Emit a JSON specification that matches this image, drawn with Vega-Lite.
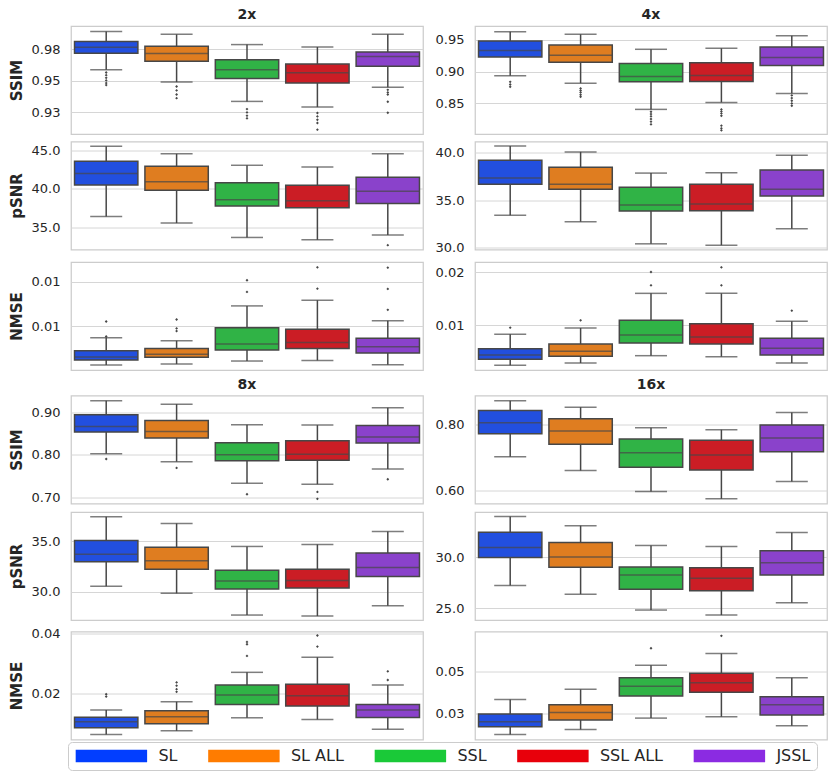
{
"$schema": "https://vega.github.io/schema/vega-lite/v6.json",
"padding": {"left": 8, "top": 7, "right": 5, "bottom": 5},
"background": "#ffffff",
"datasets": {"d": [
{"s":"2x","m":"SSIM","g":"SL","lo":0.9587,"q1":0.9718,"md":0.9766,"q3":0.9811,"hi":0.989,"out":[0.9566,0.9545,0.9524,0.9503,0.9482,0.9466]},
{"s":"2x","m":"SSIM","g":"SL ALL","lo":0.949,"q1":0.9655,"md":0.9716,"q3":0.9774,"hi":0.9868,"out":[0.9455,0.9424,0.9392,0.9363]},
{"s":"2x","m":"SSIM","g":"SSL","lo":0.9337,"q1":0.9518,"md":0.9587,"q3":0.9666,"hi":0.9787,"out":[0.9276,0.925,0.9224,0.9203]},
{"s":"2x","m":"SSIM","g":"SSL ALL","lo":0.9292,"q1":0.9482,"md":0.9563,"q3":0.9634,"hi":0.9768,"out":[0.9245,0.9218,0.9192,0.9166,0.9113]},
{"s":"2x","m":"SSIM","g":"JSSL","lo":0.945,"q1":0.9616,"md":0.9692,"q3":0.9729,"hi":0.9868,"out":[0.9429,0.9408,0.9392,0.9334,0.9247]},
{"s":"2x","m":"pSNR","g":"SL","lo":36.4,"q1":40.53,"md":42.02,"q3":43.64,"hi":45.61,"out":[]},
{"s":"2x","m":"pSNR","g":"SL ALL","lo":35.53,"q1":39.82,"md":40.96,"q3":42.98,"hi":44.61,"out":[]},
{"s":"2x","m":"pSNR","g":"SSL","lo":33.64,"q1":37.76,"md":38.6,"q3":40.83,"hi":43.11,"out":[]},
{"s":"2x","m":"pSNR","g":"SSL ALL","lo":33.33,"q1":37.54,"md":38.46,"q3":40.48,"hi":42.89,"out":[]},
{"s":"2x","m":"pSNR","g":"JSSL","lo":33.95,"q1":38.11,"md":39.69,"q3":41.54,"hi":44.61,"out":[32.63]},
{"s":"2x","m":"NMSE","g":"SL","lo":0.00067,"q1":0.00123,"md":0.00157,"q3":0.00228,"hi":0.00373,"out":[0.00556,0.00387]},
{"s":"2x","m":"NMSE","g":"SL ALL","lo":0.00078,"q1":0.00153,"md":0.00187,"q3":0.00254,"hi":0.0034,"out":[0.00578,0.00478,0.00448]},
{"s":"2x","m":"NMSE","g":"SSL","lo":0.00112,"q1":0.00235,"md":0.00302,"q3":0.00485,"hi":0.00731,"out":[0.00888,0.01019]},
{"s":"2x","m":"NMSE","g":"SSL ALL","lo":0.00119,"q1":0.00254,"md":0.0032,"q3":0.0047,"hi":0.00795,"out":[0.00925,0.01164]},
{"s":"2x","m":"NMSE","g":"JSSL","lo":0.00071,"q1":0.00201,"md":0.00272,"q3":0.00369,"hi":0.00563,"out":[0.00687,0.00922,0.0116]},
{"s":"4x","m":"SSIM","g":"SL","lo":0.8935,"q1":0.9233,"md":0.9332,"q3":0.9484,"hi":0.9631,"out":[0.884,0.8798,0.8762]},
{"s":"4x","m":"SSIM","g":"SL ALL","lo":0.8819,"q1":0.9149,"md":0.9259,"q3":0.9421,"hi":0.9589,"out":[0.8736,0.8704,0.8673,0.8636,0.8605]},
{"s":"4x","m":"SSIM","g":"SSL","lo":0.8406,"q1":0.884,"md":0.8924,"q3":0.9128,"hi":0.9353,"out":[0.8369,0.8332,0.8296,0.8254,0.8212,0.817]},
{"s":"4x","m":"SSIM","g":"SSL ALL","lo":0.8516,"q1":0.8846,"md":0.894,"q3":0.9139,"hi":0.9369,"out":[0.8406,0.8374,0.8343,0.8306,0.8149,0.8107,0.8076]},
{"s":"4x","m":"SSIM","g":"JSSL","lo":0.8657,"q1":0.9097,"md":0.9223,"q3":0.939,"hi":0.9568,"out":[0.8626,0.8584,0.8542,0.85,0.8463]},
{"s":"4x","m":"pSNR","g":"SL","lo":33.4,"q1":36.7,"md":37.34,"q3":39.22,"hi":40.74,"out":[]},
{"s":"4x","m":"pSNR","g":"SL ALL","lo":32.73,"q1":36.17,"md":36.7,"q3":38.48,"hi":40.11,"out":[]},
{"s":"4x","m":"pSNR","g":"SSL","lo":30.39,"q1":33.87,"md":34.5,"q3":36.38,"hi":37.87,"out":[]},
{"s":"4x","m":"pSNR","g":"SSL ALL","lo":30.25,"q1":33.9,"md":34.61,"q3":36.7,"hi":37.91,"out":[]},
{"s":"4x","m":"pSNR","g":"JSSL","lo":31.99,"q1":35.46,"md":36.17,"q3":38.19,"hi":39.75,"out":[]},
{"s":"4x","m":"NMSE","g":"SL","lo":0.0025,"q1":0.00363,"md":0.00444,"q3":0.00563,"hi":0.00831,"out":[0.00956]},
{"s":"4x","m":"NMSE","g":"SL ALL","lo":0.00294,"q1":0.00419,"md":0.00513,"q3":0.0065,"hi":0.0095,"out":[0.01094]},
{"s":"4x","m":"NMSE","g":"SSL","lo":0.00431,"q1":0.00669,"md":0.00819,"q3":0.01094,"hi":0.016,"out":[0.0175,0.02]},
{"s":"4x","m":"NMSE","g":"SSL ALL","lo":0.00413,"q1":0.0065,"md":0.00781,"q3":0.01031,"hi":0.016,"out":[0.0175,0.02088]},
{"s":"4x","m":"NMSE","g":"JSSL","lo":0.00294,"q1":0.00444,"md":0.00569,"q3":0.00756,"hi":0.01075,"out":[0.01275]},
{"s":"8x","m":"SSIM","g":"SL","lo":0.8023,"q1":0.8531,"md":0.8664,"q3":0.8938,"hi":0.9266,"out":[0.7898]},
{"s":"8x","m":"SSIM","g":"SL ALL","lo":0.7836,"q1":0.8391,"md":0.8547,"q3":0.8805,"hi":0.9188,"out":[0.7688]},
{"s":"8x","m":"SSIM","g":"SSL","lo":0.7328,"q1":0.7859,"md":0.8,"q3":0.8281,"hi":0.8703,"out":[0.707]},
{"s":"8x","m":"SSIM","g":"SSL ALL","lo":0.7305,"q1":0.7867,"md":0.8008,"q3":0.8328,"hi":0.8695,"out":[0.7125,0.6961]},
{"s":"8x","m":"SSIM","g":"JSSL","lo":0.7664,"q1":0.8273,"md":0.8414,"q3":0.8688,"hi":0.9102,"out":[0.7422]},
{"s":"8x","m":"pSNR","g":"SL","lo":30.53,"q1":32.95,"md":33.71,"q3":35.07,"hi":37.42,"out":[]},
{"s":"8x","m":"pSNR","g":"SL ALL","lo":29.83,"q1":32.22,"md":33.05,"q3":34.4,"hi":36.75,"out":[]},
{"s":"8x","m":"pSNR","g":"SSL","lo":27.68,"q1":30.26,"md":31.06,"q3":32.12,"hi":34.47,"out":[]},
{"s":"8x","m":"pSNR","g":"SSL ALL","lo":27.58,"q1":30.36,"md":31.09,"q3":32.22,"hi":34.67,"out":[]},
{"s":"8x","m":"pSNR","g":"JSSL","lo":28.61,"q1":31.49,"md":32.38,"q3":33.81,"hi":35.96,"out":[]},
{"s":"8x","m":"NMSE","g":"SL","lo":0.00599,"q1":0.00825,"md":0.01028,"q3":0.01186,"hi":0.01424,"out":[0.0196,0.0188]},
{"s":"8x","m":"NMSE","g":"SL ALL","lo":0.00723,"q1":0.0096,"md":0.01198,"q3":0.01401,"hi":0.01706,"out":[0.0236,0.0225,0.0213,0.0204]},
{"s":"8x","m":"NMSE","g":"SSL","lo":0.01164,"q1":0.01616,"md":0.01932,"q3":0.02271,"hi":0.027,"out":[0.03254,0.0365,0.03729]},
{"s":"8x","m":"NMSE","g":"SSL ALL","lo":0.01107,"q1":0.0156,"md":0.0191,"q3":0.02294,"hi":0.03209,"out":[0.03571,0.03944]},
{"s":"8x","m":"NMSE","g":"JSSL","lo":0.0078,"q1":0.01175,"md":0.01424,"q3":0.01616,"hi":0.02271,"out":[0.02441,0.02734]},
{"s":"16x","m":"SSIM","g":"SL","lo":0.702,"q1":0.7717,"md":0.8051,"q3":0.8424,"hi":0.8717,"out":[]},
{"s":"16x","m":"SSIM","g":"SL ALL","lo":0.6596,"q1":0.7394,"md":0.7798,"q3":0.8172,"hi":0.8525,"out":[]},
{"s":"16x","m":"SSIM","g":"SSL","lo":0.596,"q1":0.6697,"md":0.7141,"q3":0.7556,"hi":0.7899,"out":[]},
{"s":"16x","m":"SSIM","g":"SSL ALL","lo":0.5737,"q1":0.6616,"md":0.7071,"q3":0.7515,"hi":0.7838,"out":[]},
{"s":"16x","m":"SSIM","g":"JSSL","lo":0.6263,"q1":0.7172,"md":0.7586,"q3":0.798,"hi":0.8364,"out":[]},
{"s":"16x","m":"pSNR","g":"SL","lo":27.23,"q1":29.97,"md":30.94,"q3":32.42,"hi":33.94,"out":[]},
{"s":"16x","m":"pSNR","g":"SL ALL","lo":26.39,"q1":29.0,"md":30.0,"q3":31.42,"hi":33.06,"out":[]},
{"s":"16x","m":"pSNR","g":"SSL","lo":24.84,"q1":26.87,"md":28.26,"q3":29.03,"hi":31.13,"out":[]},
{"s":"16x","m":"pSNR","g":"SSL ALL","lo":24.35,"q1":26.71,"md":27.94,"q3":28.97,"hi":31.03,"out":[]},
{"s":"16x","m":"pSNR","g":"JSSL","lo":25.55,"q1":28.26,"md":29.45,"q3":30.61,"hi":32.39,"out":[]},
{"s":"16x","m":"NMSE","g":"SL","lo":0.0122,"q1":0.0168,"md":0.0198,"q3":0.0244,"hi":0.0332,"out":[]},
{"s":"16x","m":"NMSE","g":"SL ALL","lo":0.0152,"q1":0.0208,"md":0.0254,"q3":0.03,"hi":0.0392,"out":[]},
{"s":"16x","m":"NMSE","g":"SSL","lo":0.022,"q1":0.0352,"md":0.041,"q3":0.0462,"hi":0.0536,"out":[0.0638]},
{"s":"16x","m":"NMSE","g":"SSL ALL","lo":0.0228,"q1":0.0374,"md":0.0432,"q3":0.0488,"hi":0.0606,"out":[0.0712]},
{"s":"16x","m":"NMSE","g":"JSSL","lo":0.0174,"q1":0.0238,"md":0.03,"q3":0.0348,"hi":0.0462,"out":[]}
]},
"data": {"name": "d"},
"columns": 2,
"spacing": {"row": 5.5, "column": 10},
"resolve": {"scale": {"color": "shared", "fill": "independent"}, "legend": {"color": "shared", "fill": "independent"}},
"concat": [
 {"title": "2x", "width": 352, "height": 108, "transform": [{"filter": "datum.s==='2x'&&datum.m==='SSIM'"}],
  "encoding": {"x": {"field": "g", "type": "nominal", "scale": {"domain": ["SL","SL ALL","SSL","SSL ALL","JSSL"], "paddingInner": 0, "paddingOuter": 0}, "axis": null}},
  "layer": [
   {"mark": {"type": "rule", "color": "#474747", "strokeWidth": 1.5}, "encoding": {"y": {"field": "lo", "type": "quantitative", "scale": {"domain": [0.90789, 0.99342], "nice": false, "zero": false}, "axis": {"title": "SSIM", "values": [0.925, 0.95, 0.975], "labelExpr": "format(datum.value+1e-9,'.2f')"}}, "y2": {"field": "hi"}}},
   {"mark": {"type": "tick", "color": "#474747", "size": 32, "thickness": 1.5}, "encoding": {"y": {"field": "lo", "type": "quantitative"}}},
   {"mark": {"type": "tick", "color": "#474747", "size": 32, "thickness": 1.5}, "encoding": {"y": {"field": "hi", "type": "quantitative"}}},
   {"mark": {"type": "bar", "width": {"band": 0.9}, "stroke": "#474747", "strokeWidth": 1.5}, "encoding": {"y": {"field": "q1", "type": "quantitative"}, "y2": {"field": "q3"}, "fill": {"field": "g", "type": "nominal", "scale": {"domain": ["SL","SL ALL","SSL","SSL ALL","JSSL"], "range": ["#224fdf","#df7d20","#30b346","#cb1d25","#8a42cb"]}, "legend": null}}},
   {"mark": {"type": "tick", "color": "#474747", "size": 63, "thickness": 1.5}, "encoding": {"y": {"field": "md", "type": "quantitative"}}},
   {"transform": [{"flatten": ["out"]}], "mark": {"type": "point", "shape": "diamond", "filled": true, "size": 8, "color": "#474747", "opacity": 1}, "encoding": {"y": {"field": "out", "type": "quantitative"}}},
   {"transform": [{"filter": "false"}], "mark": {"type": "point", "filled": true}, "encoding": {"y": {"field": "md", "type": "quantitative"}, "color": {"field": "g", "type": "nominal", "scale": {"domain": ["SL","SL ALL","SSL","SSL ALL","JSSL"], "range": ["#023eff","#ff7c00","#1ac938","#e8000b","#8b2be2"]}, "legend": {"title": null, "orient": "none", "legendX": -3, "legendY": 716, "direction": "horizontal", "columns": 5, "symbolType": "M-5.63,-1L5.63,-1L5.63,1L-5.63,1Z", "symbolSize": 161, "symbolOffset": 29.4, "symbolOpacity": 1, "symbolStrokeWidth": 0, "labelOffset": 39, "labelFontSize": 16, "labelColor": "#262626", "columnPadding": 28.5, "padding": 6, "strokeColor": "#cccccc", "cornerRadius": 4, "fillColor": "#ffffff"}}}}
  ]},
 {"title": "4x", "width": 352, "height": 108, "transform": [{"filter": "datum.s==='4x'&&datum.m==='SSIM'"}],
  "encoding": {"x": {"field": "g", "type": "nominal", "scale": {"domain": ["SL","SL ALL","SSL","SSL ALL","JSSL"], "paddingInner": 0, "paddingOuter": 0}, "axis": null}},
  "layer": [
   {"mark": {"type": "rule", "color": "#474747", "strokeWidth": 1.5}, "encoding": {"y": {"field": "lo", "type": "quantitative", "scale": {"domain": [0.8018, 0.972], "nice": false, "zero": false}, "axis": {"title": null, "values": [0.85, 0.9, 0.95], "labelExpr": "format(datum.value+1e-9,'.2f')"}}, "y2": {"field": "hi"}}},
   {"mark": {"type": "tick", "color": "#474747", "size": 32, "thickness": 1.5}, "encoding": {"y": {"field": "lo", "type": "quantitative"}}},
   {"mark": {"type": "tick", "color": "#474747", "size": 32, "thickness": 1.5}, "encoding": {"y": {"field": "hi", "type": "quantitative"}}},
   {"mark": {"type": "bar", "width": {"band": 0.9}, "stroke": "#474747", "strokeWidth": 1.5}, "encoding": {"y": {"field": "q1", "type": "quantitative"}, "y2": {"field": "q3"}, "fill": {"field": "g", "type": "nominal", "scale": {"domain": ["SL","SL ALL","SSL","SSL ALL","JSSL"], "range": ["#224fdf","#df7d20","#30b346","#cb1d25","#8a42cb"]}, "legend": null}}},
   {"mark": {"type": "tick", "color": "#474747", "size": 63, "thickness": 1.5}, "encoding": {"y": {"field": "md", "type": "quantitative"}}},
   {"transform": [{"flatten": ["out"]}], "mark": {"type": "point", "shape": "diamond", "filled": true, "size": 8, "color": "#474747", "opacity": 1}, "encoding": {"y": {"field": "out", "type": "quantitative"}}}
  ]},
 {"width": 352, "height": 108, "transform": [{"filter": "datum.s==='2x'&&datum.m==='pSNR'"}],
  "encoding": {"x": {"field": "g", "type": "nominal", "scale": {"domain": ["SL","SL ALL","SSL","SSL ALL","JSSL"], "paddingInner": 0, "paddingOuter": 0}, "axis": null}},
  "layer": [
   {"mark": {"type": "rule", "color": "#474747", "strokeWidth": 1.5}, "encoding": {"y": {"field": "lo", "type": "quantitative", "scale": {"domain": [32.06, 46.23], "nice": false, "zero": false}, "axis": {"title": "pSNR", "values": [35, 40, 45], "labelExpr": "format(datum.value+1e-9,'.1f')"}}, "y2": {"field": "hi"}}},
   {"mark": {"type": "tick", "color": "#474747", "size": 32, "thickness": 1.5}, "encoding": {"y": {"field": "lo", "type": "quantitative"}}},
   {"mark": {"type": "tick", "color": "#474747", "size": 32, "thickness": 1.5}, "encoding": {"y": {"field": "hi", "type": "quantitative"}}},
   {"mark": {"type": "bar", "width": {"band": 0.9}, "stroke": "#474747", "strokeWidth": 1.5}, "encoding": {"y": {"field": "q1", "type": "quantitative"}, "y2": {"field": "q3"}, "fill": {"field": "g", "type": "nominal", "scale": {"domain": ["SL","SL ALL","SSL","SSL ALL","JSSL"], "range": ["#224fdf","#df7d20","#30b346","#cb1d25","#8a42cb"]}, "legend": null}}},
   {"mark": {"type": "tick", "color": "#474747", "size": 63, "thickness": 1.5}, "encoding": {"y": {"field": "md", "type": "quantitative"}}},
   {"transform": [{"flatten": ["out"]}], "mark": {"type": "point", "shape": "diamond", "filled": true, "size": 8, "color": "#474747", "opacity": 1}, "encoding": {"y": {"field": "out", "type": "quantitative"}}}
  ]},
 {"width": 352, "height": 108, "transform": [{"filter": "datum.s==='4x'&&datum.m==='pSNR'"}],
  "encoding": {"x": {"field": "g", "type": "nominal", "scale": {"domain": ["SL","SL ALL","SSL","SSL ALL","JSSL"], "paddingInner": 0, "paddingOuter": 0}, "axis": null}},
  "layer": [
   {"mark": {"type": "rule", "color": "#474747", "strokeWidth": 1.5}, "encoding": {"y": {"field": "lo", "type": "quantitative", "scale": {"domain": [29.79, 41.21], "nice": false, "zero": false}, "axis": {"title": null, "values": [30, 35, 40], "labelExpr": "format(datum.value+1e-9,'.1f')"}}, "y2": {"field": "hi"}}},
   {"mark": {"type": "tick", "color": "#474747", "size": 32, "thickness": 1.5}, "encoding": {"y": {"field": "lo", "type": "quantitative"}}},
   {"mark": {"type": "tick", "color": "#474747", "size": 32, "thickness": 1.5}, "encoding": {"y": {"field": "hi", "type": "quantitative"}}},
   {"mark": {"type": "bar", "width": {"band": 0.9}, "stroke": "#474747", "strokeWidth": 1.5}, "encoding": {"y": {"field": "q1", "type": "quantitative"}, "y2": {"field": "q3"}, "fill": {"field": "g", "type": "nominal", "scale": {"domain": ["SL","SL ALL","SSL","SSL ALL","JSSL"], "range": ["#224fdf","#df7d20","#30b346","#cb1d25","#8a42cb"]}, "legend": null}}},
   {"mark": {"type": "tick", "color": "#474747", "size": 63, "thickness": 1.5}, "encoding": {"y": {"field": "md", "type": "quantitative"}}},
   {"transform": [{"flatten": ["out"]}], "mark": {"type": "point", "shape": "diamond", "filled": true, "size": 8, "color": "#474747", "opacity": 1}, "encoding": {"y": {"field": "out", "type": "quantitative"}}}
  ]},
 {"width": 352, "height": 108, "transform": [{"filter": "datum.s==='2x'&&datum.m==='NMSE'"}],
  "encoding": {"x": {"field": "g", "type": "nominal", "scale": {"domain": ["SL","SL ALL","SSL","SSL ALL","JSSL"], "paddingInner": 0, "paddingOuter": 0}, "axis": null}},
  "layer": [
   {"mark": {"type": "rule", "color": "#474747", "strokeWidth": 1.5}, "encoding": {"y": {"field": "lo", "type": "quantitative", "scale": {"domain": [0.000112, 0.01224], "nice": false, "zero": false}, "axis": {"title": "NMSE", "values": [0.005, 0.01], "labelExpr": "format(datum.value+1e-9,'.2f')"}}, "y2": {"field": "hi"}}},
   {"mark": {"type": "tick", "color": "#474747", "size": 32, "thickness": 1.5}, "encoding": {"y": {"field": "lo", "type": "quantitative"}}},
   {"mark": {"type": "tick", "color": "#474747", "size": 32, "thickness": 1.5}, "encoding": {"y": {"field": "hi", "type": "quantitative"}}},
   {"mark": {"type": "bar", "width": {"band": 0.9}, "stroke": "#474747", "strokeWidth": 1.5}, "encoding": {"y": {"field": "q1", "type": "quantitative"}, "y2": {"field": "q3"}, "fill": {"field": "g", "type": "nominal", "scale": {"domain": ["SL","SL ALL","SSL","SSL ALL","JSSL"], "range": ["#224fdf","#df7d20","#30b346","#cb1d25","#8a42cb"]}, "legend": null}}},
   {"mark": {"type": "tick", "color": "#474747", "size": 63, "thickness": 1.5}, "encoding": {"y": {"field": "md", "type": "quantitative"}}},
   {"transform": [{"flatten": ["out"]}], "mark": {"type": "point", "shape": "diamond", "filled": true, "size": 8, "color": "#474747", "opacity": 1}, "encoding": {"y": {"field": "out", "type": "quantitative"}}}
  ]},
 {"width": 352, "height": 108, "transform": [{"filter": "datum.s==='4x'&&datum.m==='NMSE'"}],
  "encoding": {"x": {"field": "g", "type": "nominal", "scale": {"domain": ["SL","SL ALL","SSL","SSL ALL","JSSL"], "paddingInner": 0, "paddingOuter": 0}, "axis": null}},
  "layer": [
   {"mark": {"type": "rule", "color": "#474747", "strokeWidth": 1.5}, "encoding": {"y": {"field": "lo", "type": "quantitative", "scale": {"domain": [0.001625, 0.02188], "nice": false, "zero": false}, "axis": {"title": null, "values": [0.01, 0.02], "labelExpr": "format(datum.value+1e-9,'.2f')"}}, "y2": {"field": "hi"}}},
   {"mark": {"type": "tick", "color": "#474747", "size": 32, "thickness": 1.5}, "encoding": {"y": {"field": "lo", "type": "quantitative"}}},
   {"mark": {"type": "tick", "color": "#474747", "size": 32, "thickness": 1.5}, "encoding": {"y": {"field": "hi", "type": "quantitative"}}},
   {"mark": {"type": "bar", "width": {"band": 0.9}, "stroke": "#474747", "strokeWidth": 1.5}, "encoding": {"y": {"field": "q1", "type": "quantitative"}, "y2": {"field": "q3"}, "fill": {"field": "g", "type": "nominal", "scale": {"domain": ["SL","SL ALL","SSL","SSL ALL","JSSL"], "range": ["#224fdf","#df7d20","#30b346","#cb1d25","#8a42cb"]}, "legend": null}}},
   {"mark": {"type": "tick", "color": "#474747", "size": 63, "thickness": 1.5}, "encoding": {"y": {"field": "md", "type": "quantitative"}}},
   {"transform": [{"flatten": ["out"]}], "mark": {"type": "point", "shape": "diamond", "filled": true, "size": 8, "color": "#474747", "opacity": 1}, "encoding": {"y": {"field": "out", "type": "quantitative"}}}
  ]},
 {"title": "8x", "width": 352, "height": 108, "transform": [{"filter": "datum.s==='8x'&&datum.m==='SSIM'"}],
  "encoding": {"x": {"field": "g", "type": "nominal", "scale": {"domain": ["SL","SL ALL","SSL","SSL ALL","JSSL"], "paddingInner": 0, "paddingOuter": 0}, "axis": null}},
  "layer": [
   {"mark": {"type": "rule", "color": "#474747", "strokeWidth": 1.5}, "encoding": {"y": {"field": "lo", "type": "quantitative", "scale": {"domain": [0.6852, 0.9391], "nice": false, "zero": false}, "axis": {"title": "SSIM", "values": [0.7, 0.8, 0.9], "labelExpr": "format(datum.value+1e-9,'.2f')"}}, "y2": {"field": "hi"}}},
   {"mark": {"type": "tick", "color": "#474747", "size": 32, "thickness": 1.5}, "encoding": {"y": {"field": "lo", "type": "quantitative"}}},
   {"mark": {"type": "tick", "color": "#474747", "size": 32, "thickness": 1.5}, "encoding": {"y": {"field": "hi", "type": "quantitative"}}},
   {"mark": {"type": "bar", "width": {"band": 0.9}, "stroke": "#474747", "strokeWidth": 1.5}, "encoding": {"y": {"field": "q1", "type": "quantitative"}, "y2": {"field": "q3"}, "fill": {"field": "g", "type": "nominal", "scale": {"domain": ["SL","SL ALL","SSL","SSL ALL","JSSL"], "range": ["#224fdf","#df7d20","#30b346","#cb1d25","#8a42cb"]}, "legend": null}}},
   {"mark": {"type": "tick", "color": "#474747", "size": 63, "thickness": 1.5}, "encoding": {"y": {"field": "md", "type": "quantitative"}}},
   {"transform": [{"flatten": ["out"]}], "mark": {"type": "point", "shape": "diamond", "filled": true, "size": 8, "color": "#474747", "opacity": 1}, "encoding": {"y": {"field": "out", "type": "quantitative"}}}
  ]},
 {"title": "16x", "width": 352, "height": 108, "transform": [{"filter": "datum.s==='16x'&&datum.m==='SSIM'"}],
  "encoding": {"x": {"field": "g", "type": "nominal", "scale": {"domain": ["SL","SL ALL","SSL","SSL ALL","JSSL"], "paddingInner": 0, "paddingOuter": 0}, "axis": null}},
  "layer": [
   {"mark": {"type": "rule", "color": "#474747", "strokeWidth": 1.5}, "encoding": {"y": {"field": "lo", "type": "quantitative", "scale": {"domain": [0.5596, 0.8879], "nice": false, "zero": false}, "axis": {"title": null, "values": [0.6, 0.8], "labelExpr": "format(datum.value+1e-9,'.2f')"}}, "y2": {"field": "hi"}}},
   {"mark": {"type": "tick", "color": "#474747", "size": 32, "thickness": 1.5}, "encoding": {"y": {"field": "lo", "type": "quantitative"}}},
   {"mark": {"type": "tick", "color": "#474747", "size": 32, "thickness": 1.5}, "encoding": {"y": {"field": "hi", "type": "quantitative"}}},
   {"mark": {"type": "bar", "width": {"band": 0.9}, "stroke": "#474747", "strokeWidth": 1.5}, "encoding": {"y": {"field": "q1", "type": "quantitative"}, "y2": {"field": "q3"}, "fill": {"field": "g", "type": "nominal", "scale": {"domain": ["SL","SL ALL","SSL","SSL ALL","JSSL"], "range": ["#224fdf","#df7d20","#30b346","#cb1d25","#8a42cb"]}, "legend": null}}},
   {"mark": {"type": "tick", "color": "#474747", "size": 63, "thickness": 1.5}, "encoding": {"y": {"field": "md", "type": "quantitative"}}},
   {"transform": [{"flatten": ["out"]}], "mark": {"type": "point", "shape": "diamond", "filled": true, "size": 8, "color": "#474747", "opacity": 1}, "encoding": {"y": {"field": "out", "type": "quantitative"}}}
  ]},
 {"width": 352, "height": 108, "transform": [{"filter": "datum.s==='8x'&&datum.m==='pSNR'"}],
  "encoding": {"x": {"field": "g", "type": "nominal", "scale": {"domain": ["SL","SL ALL","SSL","SSL ALL","JSSL"], "paddingInner": 0, "paddingOuter": 0}, "axis": null}},
  "layer": [
   {"mark": {"type": "rule", "color": "#474747", "strokeWidth": 1.5}, "encoding": {"y": {"field": "lo", "type": "quantitative", "scale": {"domain": [27.19, 37.88], "nice": false, "zero": false}, "axis": {"title": "pSNR", "values": [30, 35], "labelExpr": "format(datum.value+1e-9,'.1f')"}}, "y2": {"field": "hi"}}},
   {"mark": {"type": "tick", "color": "#474747", "size": 32, "thickness": 1.5}, "encoding": {"y": {"field": "lo", "type": "quantitative"}}},
   {"mark": {"type": "tick", "color": "#474747", "size": 32, "thickness": 1.5}, "encoding": {"y": {"field": "hi", "type": "quantitative"}}},
   {"mark": {"type": "bar", "width": {"band": 0.9}, "stroke": "#474747", "strokeWidth": 1.5}, "encoding": {"y": {"field": "q1", "type": "quantitative"}, "y2": {"field": "q3"}, "fill": {"field": "g", "type": "nominal", "scale": {"domain": ["SL","SL ALL","SSL","SSL ALL","JSSL"], "range": ["#224fdf","#df7d20","#30b346","#cb1d25","#8a42cb"]}, "legend": null}}},
   {"mark": {"type": "tick", "color": "#474747", "size": 63, "thickness": 1.5}, "encoding": {"y": {"field": "md", "type": "quantitative"}}},
   {"transform": [{"flatten": ["out"]}], "mark": {"type": "point", "shape": "diamond", "filled": true, "size": 8, "color": "#474747", "opacity": 1}, "encoding": {"y": {"field": "out", "type": "quantitative"}}}
  ]},
 {"width": 352, "height": 108, "transform": [{"filter": "datum.s==='16x'&&datum.m==='pSNR'"}],
  "encoding": {"x": {"field": "g", "type": "nominal", "scale": {"domain": ["SL","SL ALL","SSL","SSL ALL","JSSL"], "paddingInner": 0, "paddingOuter": 0}, "axis": null}},
  "layer": [
   {"mark": {"type": "rule", "color": "#474747", "strokeWidth": 1.5}, "encoding": {"y": {"field": "lo", "type": "quantitative", "scale": {"domain": [23.87, 34.39], "nice": false, "zero": false}, "axis": {"title": null, "values": [25, 30], "labelExpr": "format(datum.value+1e-9,'.1f')"}}, "y2": {"field": "hi"}}},
   {"mark": {"type": "tick", "color": "#474747", "size": 32, "thickness": 1.5}, "encoding": {"y": {"field": "lo", "type": "quantitative"}}},
   {"mark": {"type": "tick", "color": "#474747", "size": 32, "thickness": 1.5}, "encoding": {"y": {"field": "hi", "type": "quantitative"}}},
   {"mark": {"type": "bar", "width": {"band": 0.9}, "stroke": "#474747", "strokeWidth": 1.5}, "encoding": {"y": {"field": "q1", "type": "quantitative"}, "y2": {"field": "q3"}, "fill": {"field": "g", "type": "nominal", "scale": {"domain": ["SL","SL ALL","SSL","SSL ALL","JSSL"], "range": ["#224fdf","#df7d20","#30b346","#cb1d25","#8a42cb"]}, "legend": null}}},
   {"mark": {"type": "tick", "color": "#474747", "size": 63, "thickness": 1.5}, "encoding": {"y": {"field": "md", "type": "quantitative"}}},
   {"transform": [{"flatten": ["out"]}], "mark": {"type": "point", "shape": "diamond", "filled": true, "size": 8, "color": "#474747", "opacity": 1}, "encoding": {"y": {"field": "out", "type": "quantitative"}}}
  ]},
 {"width": 352, "height": 108, "transform": [{"filter": "datum.s==='8x'&&datum.m==='NMSE'"}],
  "encoding": {"x": {"field": "g", "type": "nominal", "scale": {"domain": ["SL","SL ALL","SSL","SSL ALL","JSSL"], "paddingInner": 0, "paddingOuter": 0}, "axis": null}},
  "layer": [
   {"mark": {"type": "rule", "color": "#474747", "strokeWidth": 1.5}, "encoding": {"y": {"field": "lo", "type": "quantitative", "scale": {"domain": [0.0043, 0.0408], "nice": false, "zero": false}, "axis": {"title": "NMSE", "values": [0.02, 0.04], "labelExpr": "format(datum.value+1e-9,'.2f')"}}, "y2": {"field": "hi"}}},
   {"mark": {"type": "tick", "color": "#474747", "size": 32, "thickness": 1.5}, "encoding": {"y": {"field": "lo", "type": "quantitative"}}},
   {"mark": {"type": "tick", "color": "#474747", "size": 32, "thickness": 1.5}, "encoding": {"y": {"field": "hi", "type": "quantitative"}}},
   {"mark": {"type": "bar", "width": {"band": 0.9}, "stroke": "#474747", "strokeWidth": 1.5}, "encoding": {"y": {"field": "q1", "type": "quantitative"}, "y2": {"field": "q3"}, "fill": {"field": "g", "type": "nominal", "scale": {"domain": ["SL","SL ALL","SSL","SSL ALL","JSSL"], "range": ["#224fdf","#df7d20","#30b346","#cb1d25","#8a42cb"]}, "legend": null}}},
   {"mark": {"type": "tick", "color": "#474747", "size": 63, "thickness": 1.5}, "encoding": {"y": {"field": "md", "type": "quantitative"}}},
   {"transform": [{"flatten": ["out"]}], "mark": {"type": "point", "shape": "diamond", "filled": true, "size": 8, "color": "#474747", "opacity": 1}, "encoding": {"y": {"field": "out", "type": "quantitative"}}}
  ]},
 {"width": 352, "height": 108, "transform": [{"filter": "datum.s==='16x'&&datum.m==='NMSE'"}],
  "encoding": {"x": {"field": "g", "type": "nominal", "scale": {"domain": ["SL","SL ALL","SSL","SSL ALL","JSSL"], "paddingInner": 0, "paddingOuter": 0}, "axis": null}},
  "layer": [
   {"mark": {"type": "rule", "color": "#474747", "strokeWidth": 1.5}, "encoding": {"y": {"field": "lo", "type": "quantitative", "scale": {"domain": [0.0092, 0.0738], "nice": false, "zero": false}, "axis": {"title": null, "values": [0.025, 0.05], "labelExpr": "format(datum.value+1e-9,'.2f')"}}, "y2": {"field": "hi"}}},
   {"mark": {"type": "tick", "color": "#474747", "size": 32, "thickness": 1.5}, "encoding": {"y": {"field": "lo", "type": "quantitative"}}},
   {"mark": {"type": "tick", "color": "#474747", "size": 32, "thickness": 1.5}, "encoding": {"y": {"field": "hi", "type": "quantitative"}}},
   {"mark": {"type": "bar", "width": {"band": 0.9}, "stroke": "#474747", "strokeWidth": 1.5}, "encoding": {"y": {"field": "q1", "type": "quantitative"}, "y2": {"field": "q3"}, "fill": {"field": "g", "type": "nominal", "scale": {"domain": ["SL","SL ALL","SSL","SSL ALL","JSSL"], "range": ["#224fdf","#df7d20","#30b346","#cb1d25","#8a42cb"]}, "legend": null}}},
   {"mark": {"type": "tick", "color": "#474747", "size": 63, "thickness": 1.5}, "encoding": {"y": {"field": "md", "type": "quantitative"}}},
   {"transform": [{"flatten": ["out"]}], "mark": {"type": "point", "shape": "diamond", "filled": true, "size": 8, "color": "#474747", "opacity": 1}, "encoding": {"y": {"field": "out", "type": "quantitative"}}}
  ]}
],
"config": {
 "font": "DejaVu Sans",
 "view": {"stroke": "#cccccc", "strokeWidth": 1.25},
 "axis": {"domain": false, "ticks": false, "tickSize": 0, "grid": true, "gridColor": "#d6d6d6", "gridWidth": 1, "labelFontSize": 13, "labelColor": "#262626", "labelPadding": 11, "titleFontSize": 15, "titleFontWeight": "bold", "titleColor": "#262626", "titlePadding": 7},
 "title": {"fontSize": 14, "fontWeight": "bold", "color": "#262626", "offset": 4}
}
}
